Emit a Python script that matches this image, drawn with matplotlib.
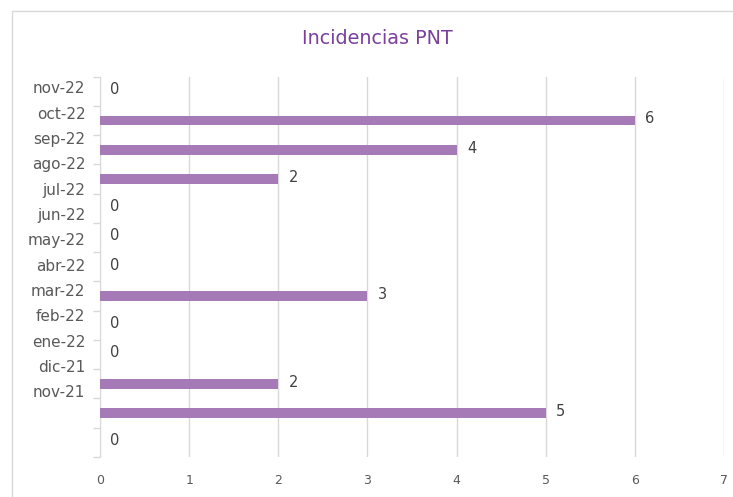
import matplotlib
matplotlib.use("Agg")
import matplotlib.pyplot as plt
from matplotlib.patches import Rectangle

categories = ["nov-22", "oct-22", "sep-22", "ago-22", "jul-22", "jun-22", "may-22",
              "abr-22", "mar-22", "feb-22", "ene-22", "dic-21", "nov-21"]
values = [0, 6, 4, 2, 0, 0, 0, 3, 0, 0, 2, 5, 0]
x_ticks = [0, 1, 2, 3, 4, 5, 6, 7]

title_color = "#7B3F9E"
bar_color = "#A67AB6"
text_color = "#595959"
grid_color = "#D9D9D9"

fig = plt.figure(figsize=(7.33, 4.97), dpi=100)
fig.patches.append(Rectangle((12/733, -0.1), 1.2, 1.1 - 11/497, transform=fig.transFigure,
                             fill=False, edgecolor=grid_color, linewidth=1))
ax = fig.add_axes([100/733, 1 - 457/497, 624/733, 380.3/497])

n = len(categories)
pos = list(range(n))
ax.barh(pos, values, height=0.33, color=bar_color, zorder=3)
for p, v in zip(pos, values):
    ax.annotate(str(v), (v, p), xytext=(7.5, 1.2), textcoords="offset points",
                ha="left", va="center", fontsize=10.5, color="#404040")

ax.set_ylim(n - 0.5, -0.5)
ax.set_xlim(x_ticks[0], x_ticks[-1])
ax.set_xticks(x_ticks)
ax.set_xticklabels([str(t) for t in x_ticks], fontsize=9, color=text_color)
ax.tick_params(axis="x", length=0, pad=12)
ax.xaxis.grid(True, color=grid_color, linewidth=1, zorder=0)

ax.set_yticks([i - 0.5 for i in range(n + 1)])
ax.set_yticklabels([])
ax.tick_params(axis="y", length=5, color=grid_color, width=1)

# category labels (compressed spacing as in the reference)
step = 25.33 / 29.27
start = (89 - 76.7) / 29.27 - 0.5
for i, c in enumerate(categories):
    ax.text(-0.165, start + i * step, c, ha="right", va="center", fontsize=11,
            color=text_color, transform=ax.transData, clip_on=False)

for s in ["top", "right", "bottom"]:
    ax.spines[s].set_visible(False)
ax.spines["left"].set_color(grid_color)

fig.text(377/733, 1 - 38/497, "Incidencias PNT", ha="center", va="center",
         fontsize=13.8, color=title_color)

fig.savefig("out.png", dpi=100)
